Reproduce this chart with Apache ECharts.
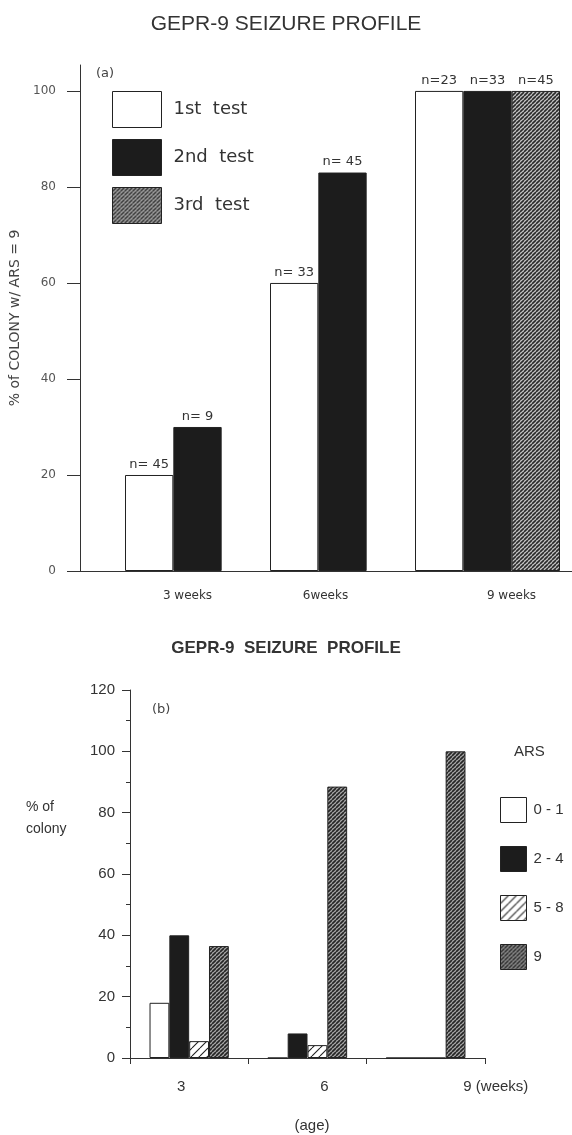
<!DOCTYPE html>
<html>
<head>
<meta charset="utf-8">
<script src="https://cdn.jsdelivr.net/npm/echarts@6/dist/echarts.min.js"></script>
<style>
html,body{margin:0;padding:0;background:#fff;}
#c{width:572px;height:1135px;}
</style>
</head>
<body>
<div id="c"></div>
<script>
// ---------- Data: panel (a) ----------
const categoriesA = ['3 weeks', '6weeks', '9 weeks'];
const testNames = ['1st test', '2nd test', '3rd test'];
const test1 = [20, 60, 100];
const test2 = [30, 83, 100];
const test3 = [null, null, 100];
const nTest1 = ['n= 45', 'n= 33', 'n=23'];
const nTest2 = ['n= 9', 'n= 45', 'n=33'];
const nTest3 = ['', '', 'n=45'];
const yTicksA = [0, 20, 40, 60, 80, 100];

// ---------- Data: panel (b) ----------
const categoriesB = ['3', '6', '9 (weeks)'];
const arsNames = ['0 - 1', '2 - 4', '5 - 8', '9'];
const ars01 = [18, 0, 0];
const ars24 = [40, 8, 0];
const ars58 = [5.5, 4.2, 0];
const ars9 = [36.5, 88.5, 100];

// ---------- Styles ----------
function makeHatch(step, lw, fg, bg) {
  const c = document.createElement('canvas');
  c.width = step; c.height = step;
  const ctx = c.getContext('2d');
  ctx.fillStyle = bg; ctx.fillRect(0, 0, step, step);
  ctx.strokeStyle = fg; ctx.lineWidth = lw;
  ctx.beginPath();
  for (let k = -1; k <= 1; k++) { ctx.moveTo(k * step, step); ctx.lineTo(k * step + step, 0); }
  ctx.stroke();
  return { image: c, repeat: 'repeat' };
}
const denseA = makeHatch(4, 1.6, '#2a2a2a', '#c4c4c4');
const denseB = makeHatch(4, 1.7, '#262626', '#a8a8a8');
const sparseB = makeHatch(8, 1.1, '#222', '#ffffff');

const FONT = 'DejaVu Sans, sans-serif';
const FONT2 = 'Liberation Sans, Arial, sans-serif';
const fillsA = ['#ffffff', '#1c1c1c', denseA];
const fillsB = ['#ffffff', '#1c1c1c', sparseB, denseB];
const labelShiftA = [-10, -17, 24];   // px shift of category labels (a)
const labelShiftB = [-8, 17, 70];     // px shift of category labels (b)
function richShift(shifts, font, size, color) {
  const r = {};
  shifts.forEach((d, i) => {
    r['s' + i] = { fontFamily: font, fontSize: size, color: color,
      padding: d < 0 ? [0, -2 * d, 0, 0] : [0, 0, 0, 2 * d] };
  });
  return r;
}

const valuesA = [test1, test2, test3];
const nA = [nTest1, nTest2, nTest3];
const valuesB = [ars01, ars24, ars58, ars9];

const A_MAX = 105.4;

const chart = echarts.init(document.getElementById('c'), null, { renderer: 'canvas' });
const option = {
  backgroundColor: '#ffffff',
  animation: false,
  title: [
    { text: 'GEPR-9 SEIZURE PROFILE', left: 'center', top: 9,
      textStyle: { fontFamily: FONT2, fontSize: 21, fontWeight: 'normal', color: '#333' } },
    { text: '(a)', left: 91, top: 62,
      textStyle: { fontFamily: FONT, fontSize: 13, fontWeight: 'normal', color: '#444' } },
    { text: 'GEPR-9  SEIZURE  PROFILE', left: 'center', top: 635,
      textStyle: { fontFamily: FONT2, fontSize: 17, fontWeight: 'bold', color: '#333' } },
    { text: '(b)', left: 147, top: 698,
      textStyle: { fontFamily: FONT, fontSize: 13, fontWeight: 'normal', color: '#444' } },
    { text: 'ARS', left: 509, top: 739,
      textStyle: { fontFamily: FONT2, fontSize: 15, fontWeight: 'normal', color: '#333' } },
    { text: '% of\ncolony', left: 21, top: 791,
      textStyle: { fontFamily: FONT2, fontSize: 14, fontWeight: 'normal', color: '#333', lineHeight: 22 } }
  ],
  legend: [
    { data: testNames, orient: 'vertical', left: 112, top: 91, padding: 0,
      itemWidth: 49, itemHeight: 36, itemGap: 11, icon: 'rect', selectedMode: false,
      itemStyle: { borderWidth: 1, borderColor: '#222' },
      formatter: n => n.replace(' ', '  '),
      textStyle: { fontFamily: FONT, fontSize: 18, color: '#333', padding: [12, 0, 0, 7] } },
    { data: arsNames, orient: 'vertical', left: 500, top: 797, padding: 0,
      itemWidth: 26, itemHeight: 25, itemGap: 23, icon: 'rect', selectedMode: false,
      itemStyle: { borderWidth: 1, borderColor: '#222' },
      textStyle: { fontFamily: FONT2, fontSize: 15, color: '#333', padding: [0, 0, 0, 2] } }
  ],
  grid: [
    { left: 77, right: 0, top: 65, bottom: 564 },
    { left: 125, width: 435, top: 65, bottom: 564 },
    { left: 130, width: 355, top: 690, bottom: 77 }
  ],
  xAxis: [
    { gridIndex: 0, type: 'value', min: 0, max: 1,
      axisLine: { show: true, onZero: false, lineStyle: { color: '#333', width: 1 } },
      axisTick: { show: false }, axisLabel: { show: false }, splitLine: { show: false } },
    { gridIndex: 1, type: 'category', data: categoriesA,
      axisLine: { show: false }, axisTick: { show: false }, splitLine: { show: false },
      axisLabel: { margin: 19, formatter: (v, i) => '{s' + i + '|' + v + '}',
        rich: richShift(labelShiftA, FONT, 12, '#333') } },
    { gridIndex: 2, type: 'category', data: categoriesB,
      axisLine: { show: true, lineStyle: { color: '#333', width: 1 } },
      axisTick: { show: true, length: 6, lineStyle: { color: '#333' } },
      splitLine: { show: false },
      name: '(age)', nameLocation: 'middle', nameGap: 60,
      nameTextStyle: { fontFamily: FONT2, fontSize: 15, color: '#333', padding: [0, 0, 0, 9] },
      axisLabel: { margin: 21, formatter: (v, i) => '{s' + i + '|' + v + '}',
        rich: richShift(labelShiftB, FONT2, 15, '#333') } }
  ],
  yAxis: [
    { gridIndex: 0, type: 'value', min: 0, max: A_MAX,
      name: '% of COLONY w/ ARS = 9', nameLocation: 'middle', nameRotate: 90, nameGap: 58,
      nameTextStyle: { fontFamily: FONT, fontSize: 14, color: '#444' },
      axisLine: { show: true, lineStyle: { color: '#333', width: 1 } },
      axisTick: { show: true, length: 13, customValues: yTicksA, lineStyle: { color: '#333' } },
      axisLabel: { customValues: yTicksA, margin: 24, fontFamily: FONT, fontSize: 12, color: '#555' },
      splitLine: { show: false } },
    { gridIndex: 1, type: 'value', min: 0, max: A_MAX, show: false, splitLine: { show: false } },
    { gridIndex: 2, type: 'value', min: 0, max: 120, interval: 20,
      axisLine: { show: true, lineStyle: { color: '#333', width: 1 } },
      axisTick: { show: true, length: 8, lineStyle: { color: '#333' } },
      minorTick: { show: true, splitNumber: 2, length: 4, lineStyle: { color: '#333' } },
      axisLabel: { margin: 15, fontFamily: FONT2, fontSize: 15, color: '#333' },
      splitLine: { show: false } }
  ],
  series: [
    ...testNames.map((name, i) => ({
      type: 'bar', name, xAxisIndex: 1, yAxisIndex: 1,
      data: valuesA[i],
      barGap: '0%', barCategoryGap: '0%',
      itemStyle: { color: fillsA[i], borderColor: '#222', borderWidth: 1 },
      label: { show: true, position: 'top', distance: 4,
        formatter: p => nA[i][p.dataIndex] || '',
        fontFamily: FONT, fontSize: 13, color: '#333' }
    })),
    ...arsNames.map((name, i) => ({
      type: 'bar', name, xAxisIndex: 2, yAxisIndex: 2,
      data: valuesB[i],
      barGap: '0%', barCategoryGap: '33%',
      itemStyle: { color: fillsB[i], borderColor: '#222', borderWidth: 1 }
    }))
  ]
};
chart.setOption(option);
</script>
</body>
</html>
